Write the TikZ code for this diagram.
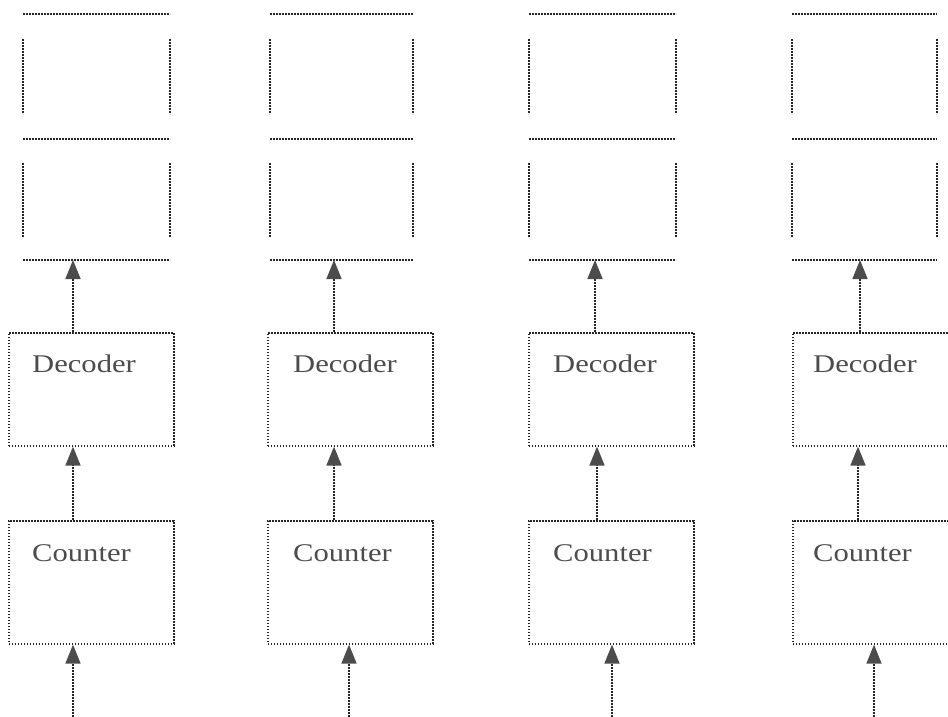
\documentclass[tikz,border=0pt]{standalone}
\usepackage{fontspec}
\setmainfont{Liberation Serif}
\usetikzlibrary{arrows.meta,calc}
\begin{document}
\begin{tikzpicture}[x=1pt,y=-1pt,
  dots/.style={line width=1.6pt, dash pattern=on 1.6pt off 1.4pt, draw=black!85},
  blockbox/.style={dots, rectangle, minimum width=165pt, inner sep=0pt, anchor=north west},
  blocktext/.style={anchor=base west, inner sep=0pt,
    font=\fontsize{25.5}{30}\selectfont, text=black!70},
  conn/.style={dots, -{Triangle[width=15pt,length=19pt,color=black!70]}}]
  \useasboundingbox (0,0) rectangle (948,717);
  % one column per entry: cell left/right, block left, arrow x (top, middle, bottom), text offset
  \foreach \i/\cl/\cr/\bl/\at/\am/\ab/\tx in {
      1/23/170/8/73/73/73/24,
      2/270/413/267/334/334/349/26,
      3/529/676/528/595/597/612/25,
      4/792/937/792/860/858/874/21}{
    % storage cells: horizontal rules and open side walls
    \draw[dots] (\cl,14) -- (\cr,14);
    \draw[dots] (\cl,39) -- (\cl,114);
    \draw[dots] (\cr,39) -- (\cr,114);
    \draw[dots] (\cl,139) -- (\cr,139);
    \draw[dots] (\cl,163) -- (\cl,237);
    \draw[dots] (\cr,163) -- (\cr,237);
    \draw[dots] (\cl,260) -- (\cr,260);
    \coordinate (cells\i) at (\at,260);
    % decoder and counter blocks
    \node[blockbox, minimum height=113pt] (dec\i) at (\bl,332) {};
    \node[blockbox, minimum height=123pt] (cnt\i) at (\bl,520) {};
    \node[blocktext] (dect\i) at ($(dec\i.north west)+(\tx,40)$) {\scalebox{1.2}[1]{Decoder}};
    \node[blocktext] (cntt\i) at ($(cnt\i.north west)+(\tx,41)$) {\scalebox{1.2}[1]{Counter}};
    % signal flow
    \coordinate (mid\i) at (\am,0);
    \coordinate (in\i) at (\ab,717);
    \draw[conn] (dec\i.north -| cells\i) -- (cells\i);
    \draw[conn] (cnt\i.north -| mid\i) -- (dec\i.south -| mid\i);
    \draw[conn] (in\i) -- (in\i |- cnt\i.south);
  }
\end{tikzpicture}
\end{document}
